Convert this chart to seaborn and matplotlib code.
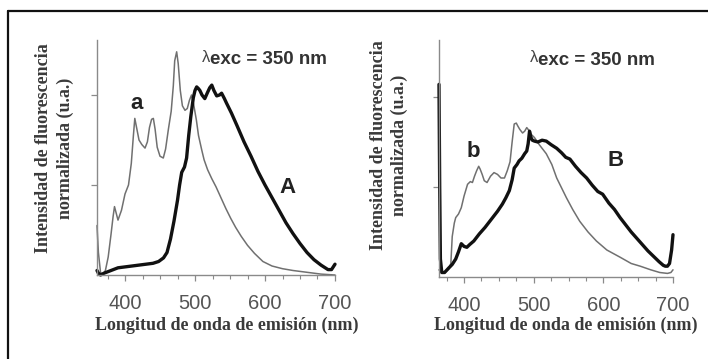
import numpy as np
import pandas as pd
import matplotlib
matplotlib.use("Agg")
import matplotlib.pyplot as plt
from matplotlib.lines import Line2D
from matplotlib.ticker import MultipleLocator
import seaborn as sns

# ---------------- data ----------------
wl_a = [360, 362, 365, 368, 372, 376, 380, 383, 385, 387, 390, 395, 400, 405, 409, 412,
        414, 417, 420, 424, 428.6, 432, 435, 438, 440.5, 443, 446, 450, 454.7, 458, 462,
        466, 469, 471, 473.8, 476, 479, 482, 485.7, 489, 492, 495, 498, 502, 505, 509.6,
        513, 518, 524, 530, 537, 544, 551, 558, 566, 575, 585, 597, 610, 625, 640, 660, 680, 700]
int_a = [0.55, 0.25, 0.03, 0.0, 0.05, 0.2, 0.45, 0.65, 0.76, 0.7, 0.61, 0.72, 0.9, 1.0, 1.24, 1.55,
         1.74, 1.62, 1.5, 1.45, 1.41, 1.48, 1.64, 1.73, 1.74, 1.62, 1.42, 1.32, 1.3, 1.4, 1.62,
         1.82, 2.1, 2.38, 2.48, 2.35, 2.05, 1.88, 1.83, 1.85, 1.94, 2.0, 1.9, 1.72, 1.55, 1.39,
         1.28, 1.17, 1.07, 0.98, 0.86, 0.74, 0.63, 0.53, 0.43, 0.33, 0.24, 0.15, 0.1, 0.07, 0.05, 0.03, 0.01, 0.0]

wl_A = [360, 362, 365, 370, 380, 390, 400, 410, 420, 430, 440, 448, 455, 460, 465, 470, 475,
        478, 481, 485, 488, 491, 494, 497.6, 500, 502.4, 505, 507, 510, 514, 518, 521, 524, 527,
        531, 535, 538, 542, 545, 552, 560, 570, 580, 590, 600, 610, 620, 630, 640, 650, 660,
        670, 680, 690, 695, 700]
int_A = [0.05, 0.02, 0.0, 0.02, 0.05, 0.08, 0.09, 0.1, 0.11, 0.12, 0.13, 0.15, 0.19, 0.25, 0.4,
         0.6, 0.83, 1.0, 1.14, 1.2, 1.3, 1.55, 1.76, 1.97, 2.05, 2.09, 2.07, 2.05, 2.0, 1.96, 2.03,
         2.08, 2.11, 2.05, 1.99, 2.0, 2.02, 1.96, 1.91, 1.8, 1.66, 1.48, 1.32, 1.15, 1.0, 0.86,
         0.72, 0.58, 0.46, 0.35, 0.25, 0.17, 0.11, 0.06, 0.06, 0.12]

wl_b = [364, 368, 372, 378, 381, 383, 386, 388, 392, 396, 400, 405, 409, 412, 415, 418, 421,
        423, 426, 429, 433, 438, 443, 448, 453, 458, 462, 466, 469, 472, 475, 477, 480, 484,
        487, 490, 494, 497, 501, 508, 518, 526, 533, 540, 547, 556, 566, 578, 590, 605, 624,
        640, 653, 668, 681, 692, 697, 700]
int_b = [0.08, 0.04, 0.05, 0.09, 0.15, 0.45, 0.6, 0.66, 0.7, 0.77, 0.9, 1.03, 1.06, 1.05, 1.12,
         1.18, 1.23, 1.2, 1.14, 1.07, 1.05, 1.12, 1.16, 1.14, 1.1, 1.1, 1.18, 1.28, 1.5, 1.7,
         1.71, 1.68, 1.64, 1.6, 1.62, 1.66, 1.62, 1.58, 1.55, 1.47, 1.37, 1.25, 1.1, 0.99, 0.88,
         0.75, 0.62, 0.5, 0.4, 0.3, 0.22, 0.15, 0.12, 0.08, 0.05, 0.04, 0.05, 0.08]

wl_B = [364, 365, 366, 368, 372, 378, 383, 388, 392, 396, 400, 404, 408, 414, 422, 430, 441,
        448, 455, 460, 465, 469, 472, 476, 479, 483, 487, 490, 492, 494, 496, 498, 501, 506,
        512, 518, 525, 533, 540, 546, 552, 560, 568, 576, 584, 592, 599, 608, 616, 624, 632,
        640, 648, 656, 664, 672, 680, 686, 689, 692, 695, 698, 700]
int_B = [2.14, 1.0, 0.2, 0.05, 0.05, 0.1, 0.14, 0.2, 0.28, 0.37, 0.34, 0.33, 0.36, 0.4, 0.48,
         0.55, 0.66, 0.73, 0.81, 0.88, 0.96, 1.08, 1.21, 1.25, 1.29, 1.32, 1.37, 1.4, 1.48, 1.62,
         1.55, 1.52, 1.51, 1.5, 1.52, 1.51, 1.47, 1.43, 1.38, 1.33, 1.31, 1.23, 1.16, 1.1, 1.02,
         0.95, 0.92, 0.82, 0.75, 0.66, 0.58, 0.5, 0.43, 0.36, 0.29, 0.23, 0.17, 0.13, 0.12,
         0.12, 0.15, 0.3, 0.47]

x_ticks = [400, 500, 600, 700]
y_label = "Intensidad de fluorescencia\nnormalizada (u.a.)"
x_label = "Longitud de onda de emisión (nm)"
exc_label = "exc = 350 nm"

# ---------------- style ----------------
sns.set_style("ticks")
plt.rcParams["font.family"] = ["Liberation Sans", "DejaVu Sans"]

W, H = 708, 359
fig = plt.figure(figsize=(W / 100, H / 100), dpi=100)

def fx(px):
    return px / W

def fy(py):
    return 1 - py / H

axis_grey = "#8a8a8a"
thin_col = "#707070"
thick_col = "#111111"
label_col = "#3a3a3a"

panels = [
    dict(left=97, right=335, top=40, bottom=275, xmin=360, wl_thin=wl_a, v_thin=int_a,
         wl_thick=wl_A, v_thick=int_A, small="a", big="A", small_xy=(416, 1.91),
         big_xy=(632, 0.97), lam_xy=(510, 2.38), ylab_x=54.5, ylab_y=148, xlab_x=227),
    dict(left=439, right=673, top=40, bottom=277, xmin=364, wl_thin=wl_b, v_thin=int_b,
         wl_thick=wl_B, v_thick=int_B, small="b", big="B", small_xy=(413, 1.39),
         big_xy=(617, 1.30), lam_xy=(494, 2.4), ylab_x=389, ylab_y=145, xlab_x=566),
]

for p in panels:
    ax = fig.add_axes([fx(p["left"]), fy(p["bottom"]),
                       fx(p["right"] - p["left"]), (p["bottom"] - p["top"]) / H])
    df_thin = pd.DataFrame({"wl": p["wl_thin"], "v": p["v_thin"]})
    df_thick = pd.DataFrame({"wl": p["wl_thick"], "v": p["v_thick"]})
    sns.lineplot(data=df_thin, x="wl", y="v", ax=ax, color=thin_col, lw=1.1,
                 estimator=None, sort=False, clip_on=False)
    sns.lineplot(data=df_thick, x="wl", y="v", ax=ax, color=thick_col, lw=2.4,
                 estimator=None, sort=False, clip_on=False)
    ymax = (p["bottom"] - p["top"]) / 90
    ax.set_xlim(p["xmin"], 700)
    ax.set_ylim(0, ymax)
    ax.set_xlabel("")
    ax.set_ylabel("")
    sns.despine(ax=ax)
    for s in ("left", "bottom"):
        ax.spines[s].set_color(axis_grey)
        ax.spines[s].set_linewidth(1.0)
    ax.set_xticks(x_ticks)
    ax.xaxis.set_minor_locator(MultipleLocator(25))
    ax.set_yticks([1, 2])
    ax.set_yticklabels([])
    ax.tick_params(axis="x", which="major", length=4.5, width=0.9, color=axis_grey,
                   labelsize=14.5, labelcolor="#555555", pad=9)
    ax.tick_params(axis="x", which="minor", length=3.0, width=0.8, color=axis_grey)
    ax.tick_params(axis="y", which="major", length=4.5, width=0.9, color=axis_grey)
    ax.patch.set_alpha(0)

    ax.text(p["small_xy"][0], p["small_xy"][1], p["small"], fontsize=16, fontweight="bold",
            color="#222222", ha="center", va="center")
    ax.text(p["big_xy"][0], p["big_xy"][1], p["big"], fontsize=16, fontweight="bold",
            color="#222222", ha="center", va="center")
    ax.text(p["lam_xy"][0], p["lam_xy"][1] - 0.01, "λ", fontsize=12, color="#444444",
            ha="left", va="baseline")
    ax.text(p["lam_xy"][0] + 12.0, p["lam_xy"][1] - 0.04, exc_label, fontsize=13.5,
            fontweight="bold", color="#333333", ha="left", va="baseline")

    fig.text(fx(p["ylab_x"]), fy(p["ylab_y"]), y_label, rotation=90, ha="center",
             va="center", family=["Liberation Serif", "DejaVu Serif"], fontweight="bold",
             fontsize=13, color=label_col, linespacing=1.35)
    fig.text(fx(p["xlab_x"]), fy(325), x_label, ha="center", va="center",
             family=["Liberation Serif", "DejaVu Serif"], fontweight="bold",
             fontsize=13, color=label_col)

# outer frame (top and left edges visible)
fig.add_artist(Line2D([fx(7.5), 1.0], [fy(11), fy(11)], color="#111111", lw=1.6,
                      transform=fig.transFigure))
fig.add_artist(Line2D([fx(7.5), fx(7.5)], [fy(11), 0.0], color="#111111", lw=1.6,
                      transform=fig.transFigure))

fig.savefig("out.png", dpi=100, facecolor="white")
